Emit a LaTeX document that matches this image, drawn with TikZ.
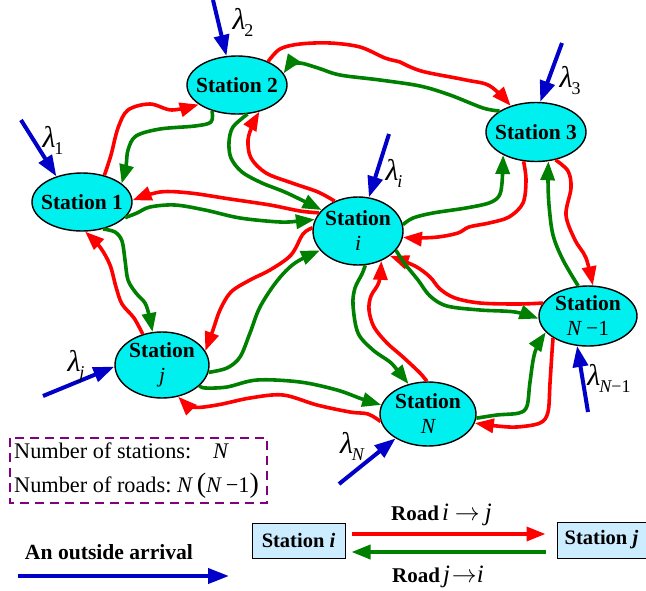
\documentclass[tikz,border=0pt]{standalone}
\usepackage{fontspec}
\setmainfont{Liberation Serif}
\usetikzlibrary{arrows.meta,shapes.geometric}
\definecolor{rred}{RGB}{255,0,0}
\definecolor{rgreen}{RGB}{0,128,0}
\definecolor{rblue}{RGB}{0,0,200}
\definecolor{scyan}{RGB}{0,240,240}
\definecolor{lblue}{RGB}{204,236,255}
\definecolor{dpurple}{RGB}{128,0,128}
\newcommand\lam[1]{{\fontsize{30}{30}\selectfont\itshape λ}\kern-1pt\raisebox{-7pt}{\fontsize{18}{18}\selectfont #1}}
\newcommand\mi[1]{{\fontsize{25}{25}\selectfont\itshape #1}}
\begin{document}
\begin{tikzpicture}[x=1pt,y=-1pt,
  station/.style={ellipse, draw=black, line width=1.4pt, fill=scyan, inner sep=0pt},
  stext/.style={font=\fontsize{21.5}{25}\selectfont\bfseries, align=center, inner sep=0pt},
  road/.style={line width=3.6pt, line join=round, -{Triangle[length=19pt,width=14pt]}},
  rr/.style={road, draw=rred},
  rg/.style={road, draw=rgreen},
  arrival/.style={draw=rblue, line width=4pt, -{Triangle[length=21pt,width=15pt]}},
  lamlab/.style={inner sep=0pt},
  legbox/.style={draw=black, line width=1pt, fill=lblue, font=\fontsize{20.5}{24}\selectfont\bfseries, inner sep=0pt},
  legtext/.style={font=\fontsize{22.3}{24}\selectfont, inner sep=0pt},
  rdlabel/.style={font=\fontsize{21}{24}\selectfont, inner sep=0pt},
  dashbox/.style={draw=dpurple, line width=1.8pt, dash pattern=on 9pt off 6pt},
  sm/.style={smooth, tension=0.55}
]
\useasboundingbox (0,0) rectangle (646,590);

% stations
\node[station, minimum width=100pt, minimum height=58pt] (s2) at (237,85) {};
\node[station, minimum width=100pt, minimum height=58pt] (s1) at (82,202) {};
\node[station, minimum width=100pt, minimum height=59pt] (s3) at (536,132) {};
\node[station, minimum width=90pt, minimum height=68pt] (si) at (358,231) {};
\node[station, minimum width=94pt, minimum height=66pt] (sj) at (162,365) {};
\node[station, minimum width=96pt, minimum height=64pt] (sN) at (428,414) {};
\node[station, minimum width=98pt, minimum height=60pt] (sN1) at (588,316) {};

\node[stext] (t2) at (s2) {Station 2};
\node[stext] (t1) at (s1) {Station 1};
\node[stext] (t3) at (s3) {Station 3};
\node[stext] (ti) at (si) {Station\\{\mdseries\itshape i}};
\node[stext] (tj) at (sj) {Station\\{\mdseries\itshape j}};
\node[stext] (tN) at (sN) {Station\\{\mdseries\itshape N}};
\node[stext] (tN1) at (sN1) {Station\\{\mdseries\itshape N}\hspace{5pt}{\mdseries −1}};

% roads 1 <-> 2
\draw[rr] plot[sm] coordinates {(s1.50) (111,155) (118,128) (128,110) (150,104) (172,110) (s2.207)};
\draw[rg] plot[sm] coordinates {(s2.226) (211,122) (195,126) (160,129) (136,136) (128,150) (126,166) (s1.25)};
% 2 <-> 3
\draw[rr] plot[sm] coordinates {(s2.37) (280,49) (300,44) (330,43) (360,47) (385,58) (400,62) (408,66) (425,72) (466,80) (490,86) (s3.134)};
\draw[rg] plot[sm] coordinates {(s3.150) (483,108) (450,95) (420,86) (380,80) (340,75) (318,68) (300,63) (290,66) (s2.14)};
% 2 <-> i
\draw[rg] plot[sm] coordinates {(s2.290) (233,127) (229,142) (231,158) (242,172) (262,183) (287,193) (si.150)};
\draw[rr] plot[sm] coordinates {(si.128) (318,192) (292,183) (266,173) (251,158) (248,140) (253,124) (s2.310)};
% 1 <-> i
\draw[rr] plot[sm] coordinates {(si.155) (300,211) (270,205) (230,199) (190,193) (160,192) (s1.2)};
\draw[rg] plot[sm] coordinates {(s1.340) (137,213) (150,207) (175,205) (205,210) (240,218) (280,222) (300,221) (si.165)};
% 1 <-> j
\draw[rr] plot[sm] coordinates {(sj.122) (134,318) (122,304) (116,287) (110,265) (100,247) (s1.276)};
\draw[rg] plot[sm] coordinates {(s1.308) (115,232) (122,241) (125,260) (128,280) (136,293) (145,303) (149,315) (sj.106)};
% i <-> 3
\draw[rg] plot[sm] coordinates {(si.8) (413,218) (433,213) (466,208) (489,203) (499,196) (502,183) (s3.215)};
\draw[rr] plot[sm] coordinates {(s3.247) (526,180) (523,203) (509,217) (489,223) (469,227) (458,233) (438,237) (416,238) (si.352)};
% 3 <-> N-1
\draw[rg] plot[sm] coordinates {(sN1.108) (563,260) (553,235) (549,205) (548,180) (s3.293)};
\draw[rr] plot[sm] coordinates {(s3.305) (568,171) (571,188) (566,215) (575,240) (586,258) (sN1.81)};
% i <-> N-1
\draw[rr] plot[sm] coordinates {(sN1.164) (517,304) (480,303) (455,298) (440,289) (430,277) (415,266) (si.322)};
\draw[rg] plot[sm] coordinates {(si.333) (405,264) (418,280) (430,296) (447,306) (480,310) (515,312) (sN1.183)};
% i <-> N
\draw[rg] plot[sm] coordinates {(si.282) (362,274) (355,288) (353,305) (358,333) (373,350) (390,362) (398,371) (sN.123)};
\draw[rr] plot[sm] coordinates {(sN.92) (420,373) (403,357) (387,343) (374,327) (369,310) (371,296) (379,282) (si.308)};
% i <-> j
\draw[rr] plot[sm] coordinates {(si.176) (303,234) (291,255) (270,270) (250,280) (231,292) (220,310) (213,330) (sj.18)};
\draw[rg] plot[sm] coordinates {(sj.351) (227,368) (240,357) (250,333) (260,307) (277,281) (295,263) (si.207)};
% j <-> N
\draw[rg] plot[sm] coordinates {(sj.331) (205,388) (227,387) (257,380) (300,382) (337,390) (362,399) (sN.169)};
\draw[rr] plot[sm] coordinates {(sN.189) (368,414) (350,412) (317,405) (283,395) (250,398) (217,405) (193,407) (sj.297)};
% N <-> N-1
\draw[rg] plot[sm] coordinates {(sN.355) (497,415) (519,413) (527,406) (530,382) (535,352) (sN1.201)};
\draw[rr] plot[sm] coordinates {(sN1.212) (552,352) (550,383) (548,412) (540,423) (517,427) (497,426) (sN.349)};

% outside arrivals
\coordinate (a2) at (213,0);
\coordinate (a1) at (21,120);
\coordinate (a3) at (562,43);
\coordinate (ai) at (389,134);
\coordinate (aj) at (43,396);
\coordinate (aN) at (339,484);
\coordinate (aN1) at (588,412);
\draw[arrival] (a2) -- (s2.110);
\draw[arrival] (a1) -- (s1.135);
\draw[arrival] (a3) -- (s3.82);
\draw[arrival] (ai) -- (si.72);
\draw[arrival] (aj) -- (sj.182);
\draw[arrival] (aN) -- (sN.217);
\draw[arrival] (aN1) -- (sN1.250);

\node[lamlab] (l1) at (53,140) {\lam{1}};
\node[lamlab] (l2) at (243,22) {\lam{2}};
\node[lamlab] (l3) at (570,81) {\lam{3}};
\node[lamlab] (li) at (394,173) {\lam{\itshape i}};
\node[lamlab] (lj) at (76,366) {\lam{\itshape j}};
\node[lamlab] (lN) at (352,446) {\lam{\itshape N}};
\node[lamlab] (lN1) at (609,378) {\lam{{\itshape N}−1}};

% legend: counts
\draw[dashbox] (10,438) rectangle (267,503);
\node[legtext, anchor=base west] (ns) at (14,458) {Number of stations:};
\node[legtext, anchor=base] (nsv) at (221,458) {\textit{N}};
\node[legtext, anchor=base west] (nr) at (14,492) {Number of roads:};
\node[legtext, anchor=base west] (nrv) at (177,492) {\textit{N}\,{\fontsize{28}{28}\selectfont(}\textit{N}\,−1{\fontsize{28}{28}\selectfont)}};

% legend: outside arrival
\node[font=\fontsize{21.6}{24}\selectfont\bfseries, inner sep=0pt] (oa) at (109,552) {An outside arrival};
\coordinate (oa1) at (18,576);
\coordinate (oa2) at (229,576);
\draw[arrival] (oa1) -- (oa2);

% legend: roads
\node[legbox, minimum width=93pt, minimum height=35pt] (lsi) at (298.5,540.5) {Station \textit{i}};
\node[legbox, minimum width=89pt, minimum height=36pt] (lsj) at (601.5,540) {Station \textit{j}};
\draw[rr] ([xshift=6pt,yshift=6.5pt]lsi.east) -- ([xshift=-11pt,yshift=6pt]lsj.west);
\draw[rg] ([xshift=-11pt,yshift=-12pt]lsj.west) -- ([xshift=6pt,yshift=-11.5pt]lsi.east);
\node[rdlabel, anchor=base west] (lr1) at (391,520) {\textbf{Road}\hspace{3pt}\mi{i}\hspace{6pt}{\fontsize{24}{24}\selectfont$\rightarrow$}\hspace{5pt}\mi{j}};
\node[rdlabel, anchor=base west] (lr2) at (392,582) {\textbf{Road}\hspace{3pt}\mi{j}\hspace{2pt}{\fontsize{24}{24}\selectfont$\rightarrow$}\mi{i}};
\end{tikzpicture}
\end{document}
